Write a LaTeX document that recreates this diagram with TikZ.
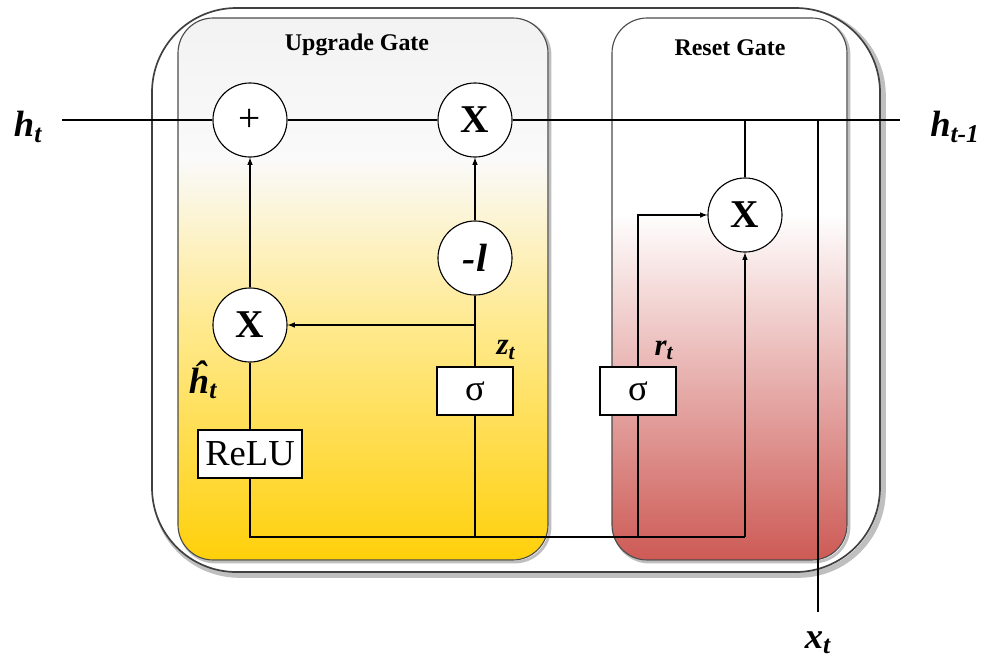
\documentclass[tikz,border=0pt]{standalone}
\usepackage{fontspec}
\setmainfont{Liberation Serif}
\usetikzlibrary{positioning}
\definecolor{gateyellow}{RGB}{255,208,10}
\definecolor{gatered}{RGB}{205,90,85}
\pgfdeclareverticalshading{upgshade}{100bp}{color(0bp)=(gateyellow); color(25bp)=(gateyellow); color(47bp)=(gateyellow!45); color(62bp)=(white!96!gray); color(75bp)=(black!5); color(100bp)=(black!5)}
\pgfdeclareverticalshading{rstshade}{100bp}{color(0bp)=(gatered); color(25bp)=(gatered); color(57bp)=(white); color(100bp)=(white)}
\tikzset{
  op/.style={circle, draw, thick, fill=white, minimum size=1.85cm, inner sep=0pt, font=\fontsize{28}{30}\selectfont\bfseries},
  act/.style={draw, thick, fill=white, minimum width=1.9cm, minimum height=1.2cm, inner sep=0pt, font=\fontsize{26}{28}\selectfont},
  lbl/.style={font=\fontsize{22}{24}\selectfont\bfseries\itshape},
  big/.style={font=\fontsize{26}{28}\selectfont\bfseries\itshape},
  ttl/.style={font=\fontsize{17}{19}\selectfont\bfseries},
  wire/.style={thick},
  arr/.style={thick, -latex}
}
\begin{document}
\begin{tikzpicture}[x=0.025cm, y=-0.025cm]
    \useasboundingbox (0,0) rectangle (982,672);

    % Outer frame
    \draw[line width=4pt, black!25, rounded corners=60] (155,11) rectangle (883,575);
    \draw[line width=1.2pt, black!75, fill=white, rounded corners=60] (152,8) rectangle (880,572);

    % Gate panels
    \draw[line width=2pt, black!25, rounded corners=25] (180,20) rectangle (550,562);
    \shade[shading=upgshade, draw=black!70, thick, rounded corners=25] (178,18) rectangle (548,560);
    \draw[line width=2pt, black!25, rounded corners=25] (614,20) rectangle (849,562);
    \shade[shading=rstshade, draw=black!70, thick, rounded corners=25] (612,18) rectangle (847,560);
    \node[ttl] (upg) at (357,45) {Upgrade Gate};
    \node[ttl] (rst) at (730,48) {Reset Gate};

    % Operators
    \node[op, font=\fontsize{28}{30}\selectfont] (plus) at (250,120) {+};
    \node[op] (mulz) at (475,120) {X};
    \node[op] (neg) at (475,258) {\itshape -l};
    \node[op] (mulh) at (250,325) {X};
    \node[op] (mulr) at (745,215) {X};

    % Activations
    \node[act] (sigz) at (475,391) {σ};
    \node[act] (sigr) at (638,391) {σ};
    \node[act, minimum width=2.6cm] (relu) at (250,454) {ReLU};

    % Ends and junctions
    \coordinate (hin) at (62,120);
    \coordinate (hout) at (900,120);
    \coordinate (jr) at (745,120);
    \coordinate (jx) at (818,120);
    \coordinate (xin) at (818,612);
    \coordinate (jz) at (475,325);
    \coordinate (bl) at (250,537);
    \coordinate (bz) at (475,537);
    \coordinate (br) at (638,537);
    \coordinate (bx) at (745,537);
    \coordinate (kr) at (638,215);

    % Main line
    \draw[wire] (hin) -- (plus) -- (mulz) -- (hout);
    \draw[wire] (mulr) -- (jr);
    \draw[wire] (xin) -- (jx);

    % Upgrade gate
    \draw[arr] (mulh) -- (plus);
    \draw[arr] (neg) -- (mulz);
    \draw[wire] (sigz) -- (neg);
    \draw[arr] (jz) -- (mulh);
    \draw[wire] (relu) -- (mulh);
    \draw[wire] (relu) -- (bl) -- (bx);
    \draw[wire] (bz) -- (sigz);

    % Reset gate
    \draw[arr] (bx) -- (mulr);
    \draw[wire] (br) -- (sigr);
    \draw[arr] (sigr) -- (kr) -- (mulr);

    % Labels
    \node[big] (lht) at (28,127) {h\textsubscript{t}};
    \node[big] (lhp) at (955,127) {h\textsubscript{t-1}};
    \node[big] (lxt) at (818,643) {x\textsubscript{t}};
    \node[lbl] (lzt) at (506,350) {z\textsubscript{t}};
    \node[lbl] (lrt) at (664,350) {r\textsubscript{t}};
    \node[big, inner sep=0pt] (lhh) at (203,380) {\^{h}\textsubscript{t}};
\end{tikzpicture}
\end{document}
